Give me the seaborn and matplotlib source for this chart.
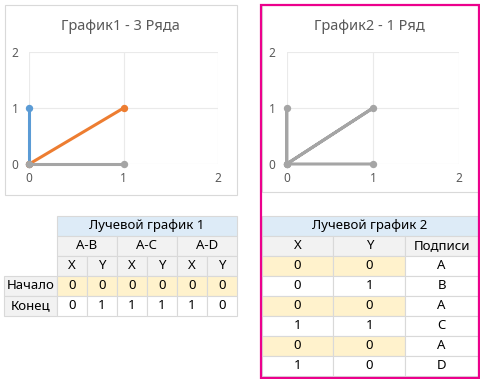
import pandas as pd
import numpy as np
import matplotlib
matplotlib.use("Agg")
import matplotlib.pyplot as plt
from matplotlib.patches import Rectangle
import seaborn as sns

sns.set_theme(style="white")
plt.rcParams["font.family"] = ["Noto Sans", "DejaVu Sans"]

# Chart 1 data: three rays, each one series from start to end
rays = ["A-B", "A-C", "A-D"]
start_x = [0, 0, 0]
start_y = [0, 0, 0]
end_x = [0, 1, 1]
end_y = [1, 1, 0]
ray_colors = ["#5B9BD5", "#ED7D31", "#A5A5A5"]

# Chart 2 data: one series going back to A each time
x2 = [0, 0, 0, 1, 0, 1]
y2 = [0, 1, 0, 1, 0, 0]
labels2 = ["A", "B", "A", "C", "A", "D"]

ticks = [0, 1, 2]
title1 = "График1 - 3 Ряда"
title2 = "График2 - 1 Ряд"

rows1 = []
for r, sx, sy, ex, ey in zip(rays, start_x, start_y, end_x, end_y):
    rows1.append({"ray": r, "x": sx, "y": sy})
    rows1.append({"ray": r, "x": ex, "y": ey})
df1 = pd.DataFrame(rows1)
df2 = pd.DataFrame({"x": x2, "y": y2, "label": labels2})

W, H = 481, 379
fig = plt.figure(figsize=(W / 100, H / 100), dpi=100)
fig.patch.set_facecolor("white")

# background axes in pixel coords for frames and tables
bg = fig.add_axes([0, 0, 1, 1])
bg.set_xlim(0, W)
bg.set_ylim(H, 0)
bg.axis("off")

grid_c = "#D9D9D9"
txt_c = "#595959"


def px_axes(x0, x1, y_top, y_bot):
    return fig.add_axes([x0 / W, (H - y_bot) / H, (x1 - x0) / W, (y_bot - y_top) / H])


def style_chart(ax):
    ax.set_xlim(0, 2)
    ax.set_ylim(0, 2)
    ax.set_xticks(ticks)
    ax.set_yticks(ticks)
    ax.grid(True, color="#EAEAEA", linewidth=0.8)
    ax.set_axisbelow(True)
    for s in ax.spines.values():
        s.set_visible(False)
    ax.tick_params(length=0, labelsize=8.5, labelcolor=txt_c, pad=8)
    ax.tick_params(axis="x", pad=6)
    ax.set_xlabel("")
    ax.set_ylabel("")
    ax.patch.set_alpha(0)


# chart frames
bg.add_patch(Rectangle((5, 5), 232, 190, fill=False, edgecolor=grid_c, lw=0.8))
bg.add_patch(Rectangle((262, 5), 218, 187, fill=False, edgecolor=grid_c, lw=0.8))

ax1 = px_axes(29.3, 218, 52, 164)
sns.lineplot(data=df1, x="x", y="y", hue="ray", hue_order=rays, palette=ray_colors,
             sort=False, estimator=None, marker="o", markersize=5.3, markeredgewidth=0,
             linewidth=2.2, legend=False, clip_on=False, ax=ax1)
style_chart(ax1)
bg.text(120, 27, title1, ha="center", va="center", fontsize=10.5, color=txt_c)

ax2 = px_axes(286.7, 459.3, 52, 164)
sns.lineplot(data=df2, x="x", y="y", sort=False, estimator=None, color="#A5A5A5",
             marker="o", markersize=5.3, markeredgewidth=0, linewidth=2.2,
             clip_on=False, ax=ax2)
style_chart(ax2)
bg.text(369, 27, title2, ha="center", va="center", fontsize=10.5, color=txt_c)

# tables
blue_c = "#DDEBF7"
gray_c = "#F2F2F2"
beige_c = "#FFF2CC"
fs = 9.5


def cell(x0, y0, w, h, text, fill="white", color="#000000"):
    bg.add_patch(Rectangle((x0, y0), w, h, facecolor=fill, edgecolor=grid_c, lw=0.8))
    bg.text(x0 + w / 2, y0 + h / 2, text, ha="center", va="center", fontsize=fs, color=color)


rh = 20
t1x, t1y = 56.7, 215.7
cw = 30
cell(t1x, t1y, cw * 6, rh, "Лучевой график 1", blue_c)
for i, r in enumerate(rays):
    cell(t1x + i * 2 * cw, t1y + rh, 2 * cw, rh, r, gray_c)
    cell(t1x + i * 2 * cw, t1y + 2 * rh, cw, rh, "X", gray_c)
    cell(t1x + (i * 2 + 1) * cw, t1y + 2 * rh, cw, rh, "Y", gray_c)
cell(4.3, t1y + 3 * rh, t1x - 4.3, rh, "Начало", gray_c)
cell(4.3, t1y + 4 * rh, t1x - 4.3, rh, "Конец", gray_c)
for i in range(3):
    cell(t1x + i * 2 * cw, t1y + 3 * rh, cw, rh, str(start_x[i]), beige_c)
    cell(t1x + (i * 2 + 1) * cw, t1y + 3 * rh, cw, rh, str(start_y[i]), beige_c)
    cell(t1x + i * 2 * cw, t1y + 4 * rh, cw, rh, str(end_x[i]))
    cell(t1x + (i * 2 + 1) * cw, t1y + 4 * rh, cw, rh, str(end_y[i]))

t2x, t2y = 261.7, 215.7
cols2 = [261.7, 333.3, 405.3, 478]
cell(t2x, t2y, cols2[3] - t2x, rh, "Лучевой график 2", blue_c)
for j, name in enumerate(["X", "Y", "Подписи"]):
    cell(cols2[j], t2y + rh, cols2[j + 1] - cols2[j], rh, name, gray_c)
for i, (xv, yv, lb) in enumerate(zip(x2, y2, labels2)):
    f = beige_c if lb == "A" else "white"
    yy = t2y + (i + 2) * rh
    cell(cols2[0], yy, cols2[1] - cols2[0], rh, str(xv), f)
    cell(cols2[1], yy, cols2[2] - cols2[1], rh, str(yv), f)
    cell(cols2[2], yy, cols2[3] - cols2[2], rh, lb)

# pink highlight around second chart and table
bg.add_patch(Rectangle((261, 5), 218.5, 372.5, fill=False, edgecolor="#EC008C", lw=1.6))

fig.savefig("out.png", dpi=100, facecolor="white")
